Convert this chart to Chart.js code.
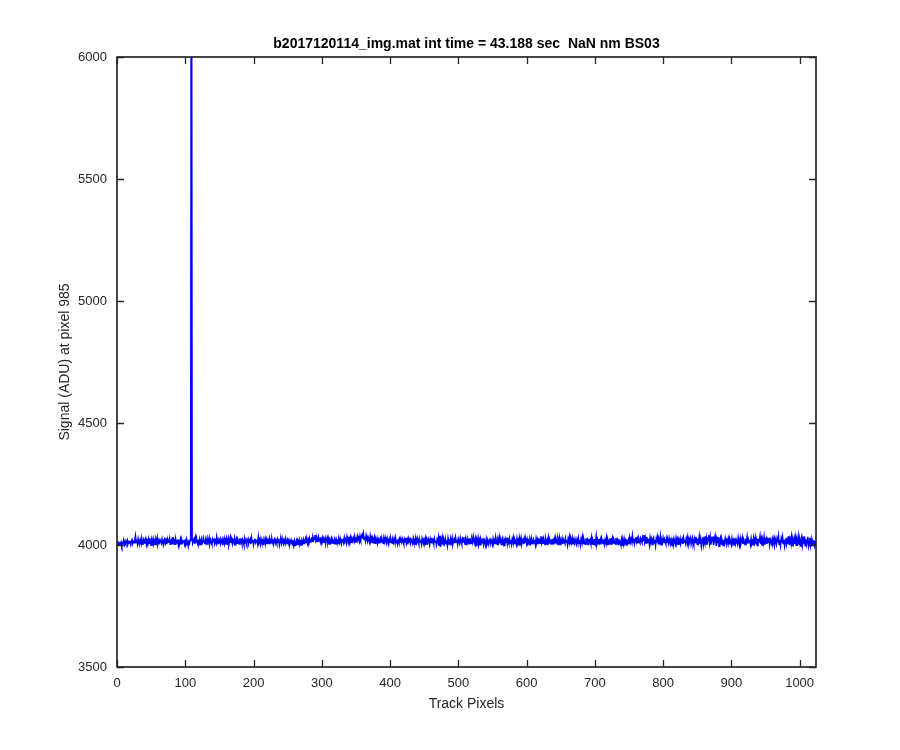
<!DOCTYPE html>
<html>
<head>
<meta charset="utf-8">
<script src="https://cdn.jsdelivr.net/npm/chart.js@4/dist/chart.umd.min.js"></script>
<style>
  html, body { margin: 0; padding: 0; background: #ffffff; }
  #wrap { width: 900px; height: 750px; }
</style>
</head>
<body>
<div id="wrap"><canvas id="c" width="900" height="750"></canvas></div>
<script>
const chartTitle = 'b2017120114_img.mat int time = 43.188 sec  NaN nm BS03';
const xAxisLabel = 'Track Pixels';
const yAxisLabel = 'Signal (ADU) at pixel 985';
const xTickValues = [0, 100, 200, 300, 400, 500, 600, 700, 800, 900, 1000];
const yTickValues = [3500, 4000, 4500, 5000, 5500, 6000];

// Signal per track pixel (pixels 1..1024)
const signalRow00 = [4001,4008,3999,4006,4003,4011,3998,4009,4005,4013,4002,4016,4007,4010,4019,4004,4012,4008,4017,4003,4014,4021,4006,4013,4009,4018,4036,4010,4022,4005,4025,4012];
const signalRow01 = [4006,4020,4010,4027,4003,4015,4023,4008,4017,4026,4004,4018,4011,4024,4006,4028,4013,3999,4019,4009,4025,4007,4016,4002,4022,4012,4029,4005,4016,4010,4021,4014];
const signalRow02 = [4007,4024,4012,4001,4019,4030,4008,4018,4004,4023,4011,4015,4027,4003,4013,4021,4006,4033,4010,4017,4003,4025,4014,4008,4022,4000,4016,4011,4024,4005,4019,4009];
const signalRow03 = [4015,4021,4004,4017,4010,4023,4008,3998,4013,4006,4019,4034,7400,4027,4009,4017,4024,4005,4029,4012,4019,4006,4015,4010,4023,4002,4016,4026,4008,4014,4022,4011];
const signalRow04 = [4005,4020,4010,4025,4001,4016,4029,4008,4021,4012,4003,4023,4014,4027,4006,4017,4009,4032,4012,4021,4004,4018,4026,4007,4015,4023,3999,4016,4028,4009,4019,4004];
const signalRow05 = [4022,4011,4026,4003,4016,4031,4009,4023,4005,4019,4012,4027,4001,4016,4025,4007,4021,4013,4004,4028,4011,4019,4006,4023,4015,4002,4026,4013,4021,4008,4018,4025];
const signalRow06 = [4007,4016,4023,4004,4029,4011,4021,4002,4018,4026,4009,4014,4023,4006,4032,4011,4019,4004,4025,4013,4008,4021,4000,4016,4027,4010,4022,4006,4018,4013,4026,4003];
const signalRow07 = [4018,4009,4025,4013,4003,4021,4030,4008,4016,4006,4023,4011,4026,4001,4015,4021,4008,4027,4013,4004,4019,4010,4025,4006,4016,4023,4008,4018,4003,4014,4021,4006];
const signalRow08 = [4002,4013,4005,4017,3999,4010,4019,4003,4015,4007,4021,4004,4012,4000,4017,4009,4022,4006,4014,4025,4011,4020,4007,4023,4015,4028,4012,4021,4026,4016,4030,4020];
const signalRow09 = [4029,4041,4020,4032,4015,4027,4035,4018,4030,4013,4025,4017,4029,4011,4023,4016,4028,4010,4022,4031,4013,4026,4004,4019,4012,4025,4008,4021,4014,4006,4020,4011];
const signalRow10 = [4024,4013,4018,4006,4022,4011,4027,4015,4008,4020,4026,4012,4030,4016,4023,4009,4033,4020,4013,4027,4018,4031,4011,4024,4016,4028,4019,4034,4012,4025,4021,4036];
const signalRow11 = [4022,4030,4017,4037,4024,4032,4041,4026,4045,4023,4034,4018,4039,4027,4015,4031,4022,4012,4036,4019,4028,4010,4025,4016,4030,4007,4023,4014,4027,4011,4022,4009];
const signalRow12 = [4023,4029,4012,4026,4017,4006,4024,4013,4031,4019,4008,4027,4016,4004,4022,4011,4026,4014,4007,4020,4010,4025,4013,4029,4009,4021,4005,4019,4010,4024,4012,4020];
const signalRow13 = [4011,4026,4017,4006,4023,4013,4029,4008,4020,4003,4025,4012,4030,4009,4022,4016,4007,4027,4014,4020,4004,4023,4011,4028,4017,4006,4025,4013,4021,4005,4027,4016];
const signalRow14 = [4008,4022,4014,4027,4004,4020,4011,4025,4016,4002,4023,4010,4029,4013,4020,4007,4025,4011,4018,4003,4022,4014,4031,3999,4038,3992,4021,4004,4027,4001,4018,4007];
const signalRow15 = [4024,4006,4019,3999,4026,4010,4016,4002,4022,4011,4028,4005,4017,4024,4008,4030,4013,4021,4004,4025,4015,4009,4029,4018,4006,4023,4012,4032,4014,4003,4021,4010];
const signalRow16 = [4026,4012,4019,4005,4028,4014,4007,4023,4011,4034,4018,4008,4025,3998,4021,4012,4029,4006,4019,4001,4024,4015,4009,4027,4004,4021,4013,3999,4023,4008,4020,4003];
const signalRow17 = [4016,4026,4007,4021,4012,4002,4024,4009,4019,4006,4027,4014,4003,4021,4011,4031,4008,4023,4002,4019,4028,4006,4016,3995,4022,4011,4030,4004,4019,4009,4025,4006];
const signalRow18 = [4020,4004,4024,4012,4029,4006,4022,4015,4003,4026,4009,4019,4000,4024,4011,4028,4006,4017,4022,4004,4026,4012,4019,4006,4023,4009,4017,4001,4022,4011,4026,4005];
const signalRow19 = [4017,4024,4008,4020,4002,4026,4011,4022,4006,4028,4014,4008,4036,4010,4022,4004,4026,4015,4002,4024,4011,4019,3999,4028,4008,4022,4014,4004,4024,4010,4019,4003];
const signalRow20 = [4023,4009,4026,4015,4004,4024,4011,4029,4002,4019,4011,4025,4005,4022,4014,4007,4027,4012,4020,4001,4025,4014,4032,4005,4022,4010,4027,4003,4019,4008,4024,4013];
const signalRow21 = [4004,4022,4011,4028,4007,4020,4001,4025,4014,4032,4006,4022,4010,4003,4027,4013,4021,4002,4025,4011,4019,4007,4029,4004,4022,4014,4002,4025,4010,4035,4006,4019];
const signalRow22 = [4005,4025,4011,4022,4002,4027,4014,4006,4024,4004,4020,4010,4029,4002,4022,4013,4004,4027,4011,4019,4001,4025,4008,4022,4014,4004,4029,4011,4020,4002,4025,4008];
const signalRow23 = [4012,4002,4021,3999,4017,4004,4025,4011,4019,4000,4023,4009,4020,4003,4029,4012,4024,4014,4037,4010,4027,4006,4021,4031,4013,4025,4007,4028,4015,4009,4027,4018];
const signalRow24 = [4011,4030,4019,4041,4013,4028,4008,4033,4017,4010,4026,4004,4030,4014,4024,4002,4022,4029,4008,4020,3999,4025,4011,4031,4005,4022,4013,4034,4001,4020,4010,4027];
const signalRow25 = [4008,4023,4014,4005,4025,4011,4019,4007,4027,4015,4004,4022,4012,4020,4002,4025,4014,4006,4027,4011,4023,4003,4020,4012,4026,4007,4016,4024,4004,4028,4011,4021];
const signalRow26 = [4007,4026,4014,4031,4004,4022,4011,4029,4018,4006,4027,4013,4001,4024,4010,4033,4017,4003,4027,4013,4034,4006,4024,3997,4020,4031,4002,4022,4010,4036,4004,4025];
const signalRow27 = [4013,4029,4040,4010,4031,4001,4024,4016,4035,3999,4026,4010,4030,3996,4022,4008,4033,3995,4019,4029,4004,4024,4014,3998,4022,4008,4027,4013,4001,4020,4010,4025];
const signalRow28 = [4005,4023,4014,4002,4026,4010,4019,4000,4027,4007,4022,4013,4004,4029,4011,3999,4025,4007,4020,4031,4004,4022,4011,4002,4027,4013,4032,4006,4022,4010,4020,4003];
const signalRow29 = [4025,4006,4015,4001,4023,4010,4029,4004,4020,3998,4025,4011,4016,4035,4004,4023,4000,4020,4008,4031,4002,4017,4026,4005,4021,4011,4029,4002,4022,4013,4006,4025];
const signalRow30 = [4011,4024,4001,4027,4014,4004,4025,4011,4034,4003,4020,3999,4025,4010,4031,4006,4022,3997,4016,4029,4004,4021,4007,4036,4000,4023,4010,4032,3998,4020,4007,4026];
const signalRow31 = [4004,4028,3999,4021,4011,4034,4001,4023,3996,4017,4031,4000,4021,4006,4036,3998,4025,4003,4017,4034,3997,4012,4029,4000,4020,3995,4015,4004,4019,3998,4009,4003];

const signal = [].concat(
  signalRow00, signalRow01, signalRow02, signalRow03, signalRow04, signalRow05, signalRow06, signalRow07,
  signalRow08, signalRow09, signalRow10, signalRow11, signalRow12, signalRow13, signalRow14, signalRow15,
  signalRow16, signalRow17, signalRow18, signalRow19, signalRow20, signalRow21, signalRow22, signalRow23,
  signalRow24, signalRow25, signalRow26, signalRow27, signalRow28, signalRow29, signalRow30, signalRow31
);
const trackPixels = signal.map((_, i) => i + 1);

const FONT = '"Liberation Sans", Arial, Helvetica, sans-serif';
const AXIS_COLOR = '#262626';

const matlabAxes = {
  id: 'matlabAxes',
  afterDraw(chart) {
    const {ctx, chartArea: a, scales} = chart;
    const tl = 7;
    ctx.save();
    ctx.strokeStyle = AXIS_COLOR;
    ctx.lineWidth = 1.3;
    ctx.beginPath();
    scales.x.ticks.forEach(t => {
      const px = Math.round(scales.x.getPixelForValue(t.value)) + 0.5;
      ctx.moveTo(px, a.bottom); ctx.lineTo(px, a.bottom - tl);
      ctx.moveTo(px, a.top); ctx.lineTo(px, a.top + tl);
    });
    scales.y.ticks.forEach(t => {
      const py = Math.round(scales.y.getPixelForValue(t.value)) + 0.5;
      ctx.moveTo(a.left, py); ctx.lineTo(a.left + tl, py);
      ctx.moveTo(a.right, py); ctx.lineTo(a.right - tl, py);
    });
    ctx.stroke();
    ctx.lineWidth = 1.7;
    ctx.strokeRect(a.left, a.top, a.right - a.left, a.bottom - a.top);
    // title centred over the axes
    ctx.fillStyle = '#000000';
    ctx.font = 'bold 14px ' + FONT;
    ctx.textAlign = 'center';
    ctx.textBaseline = 'middle';
    ctx.fillText(chartTitle, (a.left + a.right) / 2, 44);
    ctx.restore();
  }
};

new Chart(document.getElementById('c'), {
  type: 'line',
  data: {
    datasets: [{
      data: trackPixels.map((x, i) => ({x: x, y: signal[i]})),
      borderColor: '#0000ff',
      borderWidth: 1.6,
      pointRadius: 0,
      tension: 0,
      fill: false
    }]
  },
  options: {
    responsive: false,
    animation: false,
    events: [],
    layout: {padding: {top: 57, right: 84, bottom: 0, left: 0}},
    plugins: {legend: {display: false}, tooltip: {enabled: false}, title: {display: false}},
    scales: {
      x: {
        type: 'linear',
        min: 0, max: 1024,
        afterFit(s) { s.height = 83; },
        afterBuildTicks(s) { s.ticks = xTickValues.map(v => ({value: v})); },
        grid: {display: false, drawTicks: false},
        border: {display: false},
        ticks: {color: AXIS_COLOR, font: {family: FONT, size: 13}, padding: 9, maxRotation: 0, autoSkip: false, includeBounds: false,
                callback: v => String(v)},
        title: {display: true, text: xAxisLabel, color: AXIS_COLOR, font: {family: FONT, size: 14}, padding: {top: 0, bottom: 37}}
      },
      y: {
        type: 'linear',
        min: 3500, max: 6000,
        afterFit(s) { s.width = 117; },
        afterBuildTicks(s) { s.ticks = yTickValues.map(v => ({value: v})); },
        grid: {display: false, drawTicks: false},
        border: {display: false},
        ticks: {color: AXIS_COLOR, font: {family: FONT, size: 13}, padding: 10, autoSkip: false, includeBounds: false,
                callback: v => String(v)},
        title: {display: true, text: yAxisLabel, color: AXIS_COLOR, font: {family: FONT, size: 14}, padding: {top: 57, bottom: 0}}
      }
    }
  },
  plugins: [matlabAxes]
});
</script>
</body>
</html>
